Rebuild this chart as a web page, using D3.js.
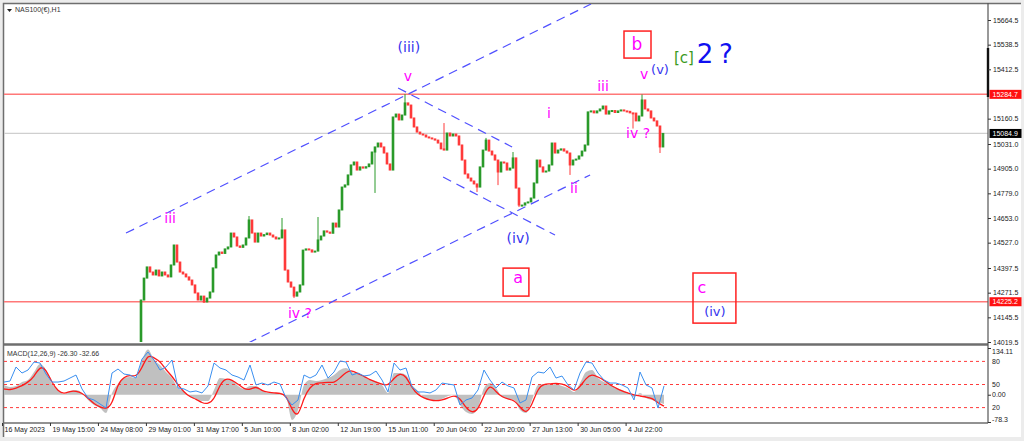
<!DOCTYPE html>
<html>
<head>
<meta charset="utf-8">
<script src="https://cdnjs.cloudflare.com/ajax/libs/d3/7.8.5/d3.min.js"></script>
<style>
  body { margin: 0; background: #fff; }
  svg { display: block; font-family: "Liberation Sans", Arial, sans-serif; }
  .ax text { font-size: 7px; fill: #222; }
  .ax line { stroke: #333; }
  .wave { font-family: "DejaVu Sans", Verdana, sans-serif; text-anchor: middle; }
</style>
</head>
<body>
<svg width="1024" height="441"></svg>
<script>
// ---- price data (NAS100 H1, one value per candle) ----
var firstOpen = 13880;
var closes = [
  14234, 14346, 14403, 14377, 14362, 14387, 14357, 14377, 14362, 14352,
  14413, 14515, 14428, 14377, 14367, 14352, 14336, 14311, 14270, 14234,
  14254, 14224, 14244, 14275, 14398, 14464, 14479, 14472, 14495, 14505,
  14576, 14556, 14510, 14503, 14515, 14551, 14643, 14576, 14530, 14576,
  14561, 14568, 14576, 14566, 14556, 14546, 14551, 14592, 14387, 14326,
  14300, 14254, 14275, 14311, 14489, 14495, 14490, 14479, 14484, 14541,
  14561, 14587, 14581, 14575, 14627, 14607, 14694, 14811, 14822, 14873,
  14924, 14939, 14898, 14914, 14908, 14915, 14929, 14990, 15016, 15036,
  15016, 14985, 14929, 14898, 15169, 15184, 15154, 15179, 15241, 15230,
  15164, 15118, 15092, 15082, 15077, 15067, 15062, 15057, 15051, 15036,
  15006, 15000, 15087, 15072, 15082, 15072, 15026, 14949, 14878, 14857,
  14842, 14827, 14811, 14914, 15000, 15051, 14995, 14975, 14949, 14888,
  14939, 14934, 14898, 14908, 14960, 14806, 14719, 14719, 14730, 14735,
  14755, 14832, 14949, 14914, 14888, 14893, 14924, 15036, 14985, 15000,
  15006, 14995, 14985, 14924, 14949, 14954, 14970, 14995, 15026, 15195,
  15200, 15190, 15200, 15210, 15225, 15184, 15200, 15202, 15192, 15200,
  15205, 15200, 15198, 15190, 15189, 15149, 15174, 15256, 15210, 15200,
  15164, 15149, 15123, 15016, 15085
];
// spikes: [candle, extreme price]
var wicks = [[21, 14219], [36, 14663], [47, 14653], [51, 14244], [59, 14658], [78, 14781],
  [88, 15286], [101, 15138], [112, 14786], [115, 15062], [119, 14821], [124, 14990],
  [126, 14709], [143, 14873], [164, 15110], [167, 15284], [173, 14985]];

var redLevels = [15284.7, 14225.2];
var lastPrice = 15084.9;
var priceTicks = [15664.5, 15538.5, 15412.5, 15160.5, 15031.0, 14905.0, 14779.0,
  14653.0, 14527.0, 14397.5, 14271.5, 14145.5, 14019.5];

// trend channels: [[candle, price], [candle, price]]
var channels = [
  [[-5, 14576], [150, 15746]],
  [[35.7, 14014], [149.7, 14873]],
  [[85.7, 15317], [123.7, 15016]],
  [[100.7, 14862], [138, 14566]]
];

// ---- sub window ----
var macdMain = [
  27.8, 22.1, 25.0, 36.4, 42.2, 65.1, 88.1, 71.0, 30.7, 13.5,
  2.0, 10.6, 13.5, 4.9, -15.2, -29.6, -38.2, -52.5, 4.9, 30.7,
  47.9, 50.8, 47.9, 99.6, 130.0, 99.6, 85.2, 65.1, 47.9, 19.2,
  10.6, -6.6, -12.3, -18.1, -18.1, 13.5, 47.9, 45.1, 42.2, 25.0,
  16.4, 25.0, 25.0, 13.5, 4.9, 4.9, 4.9, -6.6, -72.6, -43.9,
  27.8, 42.2, 39.3, 42.2, 47.9,
  56.5, 70.9, 76.7, 65.1, 59.4, 53.7, 42.2, 39.3, 27.8, 4.9,
  62.3, 62.3, 56.5, 27.8, 10.6, -9.5, -15.2, -15.2, -12.3, -3.7,
  -0.9, -29.6, -49.7, -55.4, -38.2, 19.2, 33.6, 19.2, -6.6, -12.3,
  -15.2, -43.9, -52.5, -15.2, 27.8, 30.7, 27.8, 30.7, 25.0, 19.2,
  7.7, 33.6, 65.1, 70.9, 47.9, 36.4, 30.7, 19.2, 13.5, 4.9,
  -6.6, 4.9, -9.5, -15.2, -21.0, -26.3
];
var macdSignal = [
  16.4, 13.5, 19.2, 25.0, 36.4, 50.8, 82.4, 73.8, 33.6, 10.6,
  2.0, 10.6, 10.6, 4.9, -9.5, -26.7, -35.3, -41.0, -29.6, 33.6,
  50.8, 56.5, 50.8, 76.6, 116.8, 105.3, 96.7, 70.9, 53.7, 27.8,
  7.7, -6.6, -12.3, -23.8, -26.7, -15.2, 30.7, 47.9, 42.2, 30.7,
  16.4, 13.5, 25.0, 10.6, 7.7, 4.9, 4.9, -0.9, -43.9, -66.9,
  -6.6, 22.1, 33.6, 33.6, 36.4,
  33.6, 47.9, 65.1, 70.9, 59.4, 53.7, 42.2, 36.4, 30.7, 25.0,
  47.9, 62.3, 53.7, 19.2, -0.9, -9.5, -15.2, -18.1, -15.2, -9.5,
  -0.9, -9.5, -38.2, -52.5, -43.9, -0.9, 30.7, 7.7, -6.6, -12.3,
  -15.2, -35.3, -55.4, -29.6, 19.2, 30.7, 30.7, 33.6, 30.7, 25.0,
  7.7, 22.1, 47.9, 59.4, 50.8, 42.2, 27.8, 19.2, 10.6, 4.9,
  -0.9, -3.7, -6.6, -9.5, -23.8, -32.7
];
var oscLine = [
  53.2, 54.5, 72.7, 64.9, 68.8, 79.2, 77.9, 63.6, 53.2, 53.2,
  54.5, 58.4, 62.3, 44.2, 32.5, 29.9, 24.7, 19.5, 64.9, 70.1,
  63.6, 62.3, 58.4, 83.1, 92.2, 81.8, 68.8, 72.7, 81.8, 45.5,
  44.2, 40.3, 41.6, 39.0, 48.1, 77.9, 71.4, 68.8, 62.3, 59.7,
  55.8, 75.3, 49.4, 51.9, 49.4, 53.2, 50.6, 32.5, 23.4, 29.9,
  62.3, 58.4, 62.3, 75.3, 58.4,
  66.2, 80.5, 79.2, 62.3, 64.9, 61.0, 62.3, 67.5, 55.8, 40.3,
  77.9, 68.8, 71.4, 46.8, 40.3, 40.3, 39.0, 42.9, 51.9, 50.6,
  49.4, 23.4, 29.9, 32.5, 42.9, 68.8, 55.8, 45.5, 53.2, 48.1,
  45.5, 26.0, 29.9, 59.7, 66.2, 64.9, 72.7, 58.4, 61.0, 49.4,
  42.9, 64.9, 79.2, 77.9, 64.9, 55.8, 51.9, 51.9, 49.4, 45.5,
  29.9, 66.2, 49.4, 45.5, 19.5, 48.1
];
var oscLevels = [80, 50, 20];
var macdTicks = [134.11, 0, -78.3];

var timeLabels = ["16 May 2023", "19 May 15:00", "24 May 08:00", "29 May 01:00", "31 May 17:00",
  "5 Jun 10:00", "8 Jun 02:00", "12 Jun 19:00", "15 Jun 11:00", "20 Jun 04:00",
  "22 Jun 20:00", "27 Jun 13:00", "30 Jun 05:00", "4 Jul 22:00"];

// ---- wave count annotations (layout) ----
var MAG = "#ff00ff", BLUE = "#3434ee";
var waveLabels = [
  {c: 89.3, p: 15527, t: "(iii)", f: BLUE, s: 14},
  {c: 89, p: 15378, t: "v", f: MAG, s: 14},
  {c: 9.7, p: 14653, t: "iii", f: MAG, s: 14},
  {c: 53, p: 14168, t: "iv ?", f: MAG, s: 14},
  {c: 125.7, p: 14551, t: "(iv)", f: BLUE, s: 14},
  {c: 136, p: 15189, t: "i", f: MAG, s: 14},
  {c: 144.3, p: 14806, t: "ii", f: MAG, s: 14},
  {c: 154, p: 15327, t: "iii", f: MAG, s: 14},
  {c: 165.7, p: 15087, t: "iv ?", f: MAG, s: 14},
  {c: 167.7, p: 15389, t: "v", f: MAG, s: 14},
  {c: 173, p: 15414, t: "(v)", f: BLUE, s: 13},
  {c: 165.3, p: 15542, t: "b", f: MAG, s: 17},
  {c: 181, p: 15470, t: "[c]", f: "#3c9a1e", s: 15},
  {c: 188, p: 15491, t: "2", f: "#1010f0", s: 26},
  {c: 195, p: 15491, t: "?", f: "#1010f0", s: 26},
  {c: 125.7, p: 14352, t: "a", f: MAG, s: 16},
  {c: 187, p: 14300, t: "c", f: MAG, s: 16},
  {c: 191.3, p: 14178, t: "(iv)", f: BLUE, s: 13}
];
var waveBoxes = [
  {c: [161, 170], p: [15608, 15470]},
  {c: [120.7, 129.3], p: [14397, 14254]},
  {c: [184, 198.3], p: [14372, 14116]}
];

var svg = d3.select("svg");
var W = 1024, H = 441, axisX = 988, mainBottom = 343, subTop = 346, subBottom = 423;

// frame
svg.append("rect").attr("width", W).attr("height", H).attr("fill", "#ececec");
svg.append("rect").attr("x", 3).attr("y", 3).attr("width", 1018).attr("height", 434).attr("fill", "#fff");
svg.append("path").attr("d", "M3.5,437V3.5H1021").attr("fill", "none").attr("stroke", "#6e6e6e").attr("stroke-width", 1.5);

var defs = svg.append("defs");
defs.append("clipPath").attr("id", "cm").append("rect").attr("x", 4).attr("y", 4).attr("width", axisX - 4).attr("height", mainBottom - 5);
defs.append("clipPath").attr("id", "cs").append("rect").attr("x", 4).attr("y", subTop).attr("width", axisX - 4).attr("height", subBottom - subTop);

// scales
var y = d3.scaleLinear().domain([14019.5, 15664.5]).range([342, 20]);
var xc = d3.scaleLinear().domain([0, closes.length - 1]).range([141, 663]);
var xs = d3.scaleLinear().domain([0, macdMain.length - 1]).range([4, 664]);
var ym = d3.scaleLinear().domain([-78.3, 134.11]).range([422, 348]);
var yo = d3.scaleLinear().domain([0, 100]).range([423, 346]);
var xt = d3.scalePoint().domain(timeLabels).range([2, 625.6]);

// ---- main window ----
var main = svg.append("g").attr("clip-path", "url(#cm)");

main.append("line").attr("x1", 4).attr("x2", axisX).attr("y1", y(lastPrice)).attr("y2", y(lastPrice))
  .attr("stroke", "#cfcfcf").attr("stroke-width", 1.2);
main.selectAll(".lvl").data(redLevels).enter().append("line")
  .attr("x1", 4).attr("x2", axisX).attr("y1", y).attr("y2", y)
  .attr("stroke", "#ff7878").attr("stroke-width", 1.5);

var bars = closes.map(function(c, i) {
  return {i: i, o: i === 0 ? firstOpen : closes[i - 1], c: c};
});
var up = "#2a9a2a", dn = "#ff3a3a";

main.selectAll(".wick").data(wicks).enter().append("line")
  .attr("x1", function(d) { return xc(d[0]); }).attr("x2", function(d) { return xc(d[0]); })
  .attr("y1", function(d) { return y(d[1]); })
  .attr("y2", function(d) {
    var b = bars[d[0]];
    return d[1] > Math.max(b.o, b.c) ? y(Math.max(b.o, b.c)) : y(Math.min(b.o, b.c));
  })
  .attr("stroke", function(d) { var b = bars[d[0]]; return b.c >= b.o ? up : dn; })
  .attr("stroke-width", 1);

main.selectAll(".bar").data(bars).enter().append("rect")
  .attr("x", function(d) { return xc(d.i) - 1.3; })
  .attr("width", 2.6)
  .attr("y", function(d) { return y(Math.max(d.o, d.c)) - 0.5; })
  .attr("height", function(d) { return Math.max(2, Math.abs(y(d.o) - y(d.c)) + 1); })
  .attr("fill", function(d) { return d.c >= d.o ? up : dn; });

main.selectAll(".chan").data(channels).enter().append("line")
  .attr("x1", function(d) { return xc(d[0][0]); }).attr("y1", function(d) { return y(d[0][1]); })
  .attr("x2", function(d) { return xc(d[1][0]); }).attr("y2", function(d) { return y(d[1][1]); })
  .attr("stroke", "#5050ff").attr("stroke-width", 1.2).attr("stroke-dasharray", "9,6");

main.selectAll(".box").data(waveBoxes).enter().append("rect")
  .attr("x", function(d) { return xc(d.c[0]); })
  .attr("y", function(d) { return y(d.p[0]); })
  .attr("width", function(d) { return xc(d.c[1]) - xc(d.c[0]); })
  .attr("height", function(d) { return y(d.p[1]) - y(d.p[0]); })
  .attr("fill", "none").attr("stroke", "#ff2020").attr("stroke-width", 1.5);

main.selectAll(".wave").data(waveLabels).enter().append("text").attr("class", "wave")
  .attr("x", function(d) { return xc(d.c); })
  .attr("y", function(d) { return y(d.p); })
  .attr("dy", "0.36em")
  .attr("font-size", function(d) { return d.s; })
  .attr("fill", function(d) { return d.f; })
  .text(function(d) { return d.t; });

svg.append("path").attr("d", "M7,9h5l-2.5,3z").attr("fill", "#222");
svg.append("text").attr("x", 15).attr("y", 12).attr("font-size", 7).attr("fill", "#333").text("NAS100(€),H1");

// ---- sub window ----
var sub = svg.append("g").attr("clip-path", "url(#cs)");
sub.append("path").datum(macdMain)
  .attr("d", d3.area().x(function(d, i) { return xs(i); }).y0(ym(0)).y1(function(d) { return ym(d); }).curve(d3.curveMonotoneX))
  .attr("fill", "#c0c0c0");
sub.selectAll(".ol").data(oscLevels).enter().append("line")
  .attr("x1", 4).attr("x2", axisX).attr("y1", yo).attr("y2", yo)
  .attr("stroke", "#ff3b3b").attr("stroke-width", 1).attr("stroke-dasharray", "3,3");
sub.append("path").datum(macdSignal)
  .attr("d", d3.line().x(function(d, i) { return xs(i); }).y(function(d) { return ym(d); }).curve(d3.curveBasis))
  .attr("fill", "none").attr("stroke", "#ff1a1a").attr("stroke-width", 1.3);
sub.append("path").datum(oscLine)
  .attr("d", d3.line().x(function(d, i) { return xs(i); }).y(function(d) { return yo(d); }))
  .attr("fill", "none").attr("stroke", "#3a8ff0").attr("stroke-width", 1);

svg.append("text").attr("x", 7).attr("y", 356).attr("font-size", 7).attr("fill", "#333")
  .text("MACD(12,26,9) -26.30 -32.66");

// panel borders
svg.append("line").attr("x1", 3).attr("x2", axisX).attr("y1", 344.5).attr("y2", 344.5).attr("stroke", "#6e6e6e").attr("stroke-width", 2.5);
svg.append("line").attr("x1", 3).attr("x2", axisX).attr("y1", subBottom).attr("y2", subBottom).attr("stroke", "#6e6e6e").attr("stroke-width", 1.3);
svg.append("line").attr("x1", axisX).attr("x2", axisX).attr("y1", 3).attr("y2", subBottom).attr("stroke", "#555").attr("stroke-width", 1.2);
svg.append("rect").attr("x", axisX - 1.2).attr("y", 48).attr("width", 2.4).attr("height", 49).attr("fill", "#111");

// ---- axes ----
var ra = svg.append("g").attr("class", "ax").attr("transform", "translate(" + axisX + ",0)")
  .call(d3.axisRight(y).tickValues(priceTicks).tickSize(3).tickPadding(2).tickFormat(d3.format(".1f")));
ra.select(".domain").remove();

var tags = [{v: redLevels[0], bg: "#ff1010"}, {v: lastPrice, bg: "#000"}, {v: redLevels[1], bg: "#ff1010"}];
var tg = svg.append("g").attr("transform", "translate(" + axisX + ",0)");
tg.selectAll("rect").data(tags).enter().append("rect")
  .attr("x", 1.5).attr("width", 32).attr("y", function(d) { return y(d.v) - 4.5; }).attr("height", 9)
  .attr("fill", function(d) { return d.bg; });
tg.selectAll("text").data(tags).enter().append("text")
  .attr("x", 4.5).attr("y", function(d) { return y(d.v); }).attr("dy", "0.34em")
  .attr("font-size", 7).attr("fill", "#fff").text(function(d) { return d3.format(".1f")(d.v); });

var ma = svg.append("g").attr("class", "ax").attr("transform", "translate(" + axisX + ",0)")
  .call(d3.axisRight(ym).tickValues(macdTicks).tickSize(3).tickPadding(1)
    .tickFormat(function(d) { return d === 0 ? "0.00" : String(d); }));
ma.select(".domain").remove();
ma.selectAll(".tick text").attr("y", function(d) { return d === macdTicks[0] ? 3 : d === macdTicks[2] ? -3 : 0; });
var oa = svg.append("g").attr("class", "ax").attr("transform", "translate(" + axisX + ",0)")
  .call(d3.axisRight(yo).tickValues(oscLevels).tickSize(0).tickPadding(4));
oa.select(".domain").remove();

var ta = svg.append("g").attr("class", "ax").attr("transform", "translate(0," + subBottom + ")")
  .call(d3.axisBottom(xt).tickSize(3));
ta.select(".domain").remove();
ta.selectAll(".tick text").attr("text-anchor", "start").attr("x", 2).attr("y", 4.5).attr("dy", "0.71em");
</script>
</body>
</html>
